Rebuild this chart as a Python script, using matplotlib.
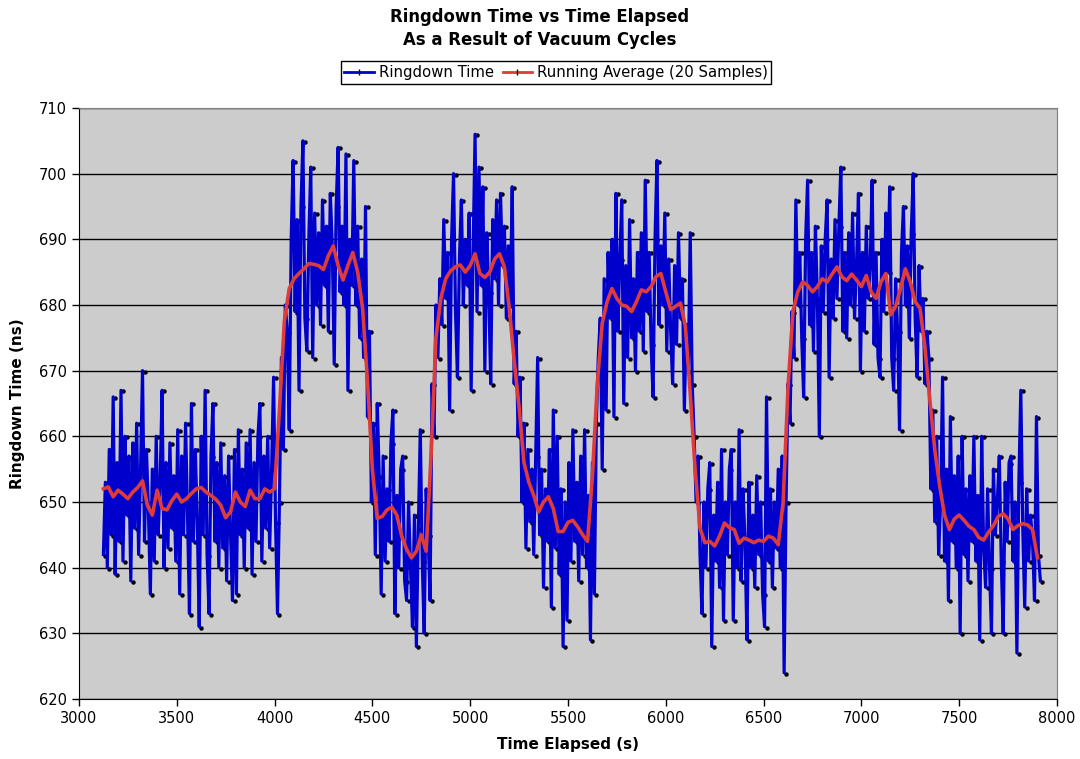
import numpy as np
import matplotlib.pyplot as plt
from matplotlib.lines import Line2D
from matplotlib.transforms import offset_copy

# raw ringdown samples, one every 10 s starting at 3125 s
t_first = 3125
t_step = 10

low_1 = [642, 653, 640, 658, 645, 666, 639, 656, 644, 667,
         641, 660, 648, 657, 638, 659, 646, 662, 642, 655,
         670, 644, 658, 649, 636, 655, 641, 660, 645, 653,
         667, 640, 656, 643, 659, 646, 654, 641, 661, 636,
         657, 645, 662, 648, 633, 665, 644, 658, 647, 631,
         660, 645, 667, 642, 633, 657, 665, 644, 656, 640,
         659, 643, 654, 638, 657, 645, 635, 658, 636, 661,
         645, 655, 640, 659, 646, 661, 639, 656, 644, 660,
         665, 641, 657, 646, 660, 643, 655, 669, 647, 633]
high_1 = [650, 672, 658, 680, 676, 661, 690, 702, 679, 693,
          667, 695, 705, 678, 673, 690, 701, 672, 694, 680,
          691, 677, 696, 683, 692, 676, 697, 689, 671, 695,
          704, 682, 692, 680, 703, 667, 690, 683, 702, 680,
          692, 675, 687]
low_2 = [672, 695, 663, 676, 650, 662, 642, 665, 654, 636,
         657, 641, 652, 644, 659, 664, 633, 651, 640, 655,
         657, 638, 635, 650, 640, 631, 648, 628, 646, 661,
         641, 630, 652, 645, 635]
high_2 = [668, 660, 680, 672, 684, 677, 693, 681, 688, 664,
          690, 700, 679, 669, 687, 696, 680, 690, 683, 694,
          667, 688, 706, 679, 701, 683, 698, 670, 691, 682,
          668, 693, 684, 696, 680, 697, 686, 692, 678, 689,
          680, 698, 668]
low_3 = [676, 660, 669, 650, 662, 643, 658, 647, 655, 642,
         657, 672, 645, 655, 637, 652, 644, 658, 634, 664,
         643, 660, 639, 652, 628, 650, 632, 656, 641, 661,
         644, 653, 638, 657, 642, 661, 640, 651, 629, 656,
         636]
high_3 = [662, 672, 678, 655, 684, 664, 688, 678, 690, 663,
          697, 676, 687, 696, 665, 686, 672, 693, 675, 684,
          670, 688, 676, 691, 673, 699, 679, 688, 674, 666,
          690, 702, 677, 689, 680, 694, 673, 687, 676, 668,
          686, 674, 691, 678, 684, 664, 677, 670]
low_4 = [691, 668, 660, 650, 657, 642, 633, 650, 640, 652,
         656, 628, 648, 641, 653, 637, 658, 632, 650, 642,
         655, 658, 632, 650, 640, 661, 638, 652, 644, 629,
         653, 640, 648, 637, 654, 642, 650, 636, 631, 666,
         641, 652, 637, 650, 643, 655, 640, 657, 624]
high_4 = [650, 668, 662, 679, 672, 696, 680, 688, 675, 666,
          690, 699, 677, 688, 673, 692, 681, 660, 689, 679,
          690, 696, 669, 687, 678, 693, 681, 692, 701, 676,
          688, 675, 691, 680, 694, 678, 686, 697, 670, 688,
          676, 692, 681, 686, 699, 674, 688, 672, 669, 690,
          679, 694, 685, 698, 672, 667, 684, 676, 661, 688,
          695, 680, 689, 675, 691, 700, 678, 669, 686, 676,
          681, 668, 676]
low_5 = [672, 652, 664, 647, 660, 642, 650, 669, 641, 655,
         635, 663, 644, 654, 640, 657, 630, 660, 642, 652,
         638, 654, 644, 660, 641, 651, 629, 660, 643, 637,
         652, 640, 630, 655, 645, 650, 657, 641, 630, 653,
         644, 656, 657, 641, 650, 627, 653, 667, 646, 634,
         652, 641, 648, 644, 635, 663, 642, 638]

# running average (20 samples), read every 25 s starting at 3125 s
avg_first = 3125
avg_step = 25
running_avg = [652.0, 652.3, 650.8, 651.8, 651.2, 650.5, 651.5, 652.2, 653.2, 649.5,
               648.0, 651.8, 649.0, 648.8, 650.2, 651.2, 650.0, 650.5, 651.3, 652.0,
               652.2, 651.5, 651.0, 650.4, 649.5, 647.6, 648.5, 651.5, 650.0, 649.3,
               651.8, 650.5, 650.5, 652.0, 651.5, 652.0, 664.0, 677.5, 682.5, 684.0,
               684.8, 685.5, 686.3, 686.2, 686.0, 685.4, 687.5, 689.0, 686.0, 683.8,
               686.0, 688.0, 685.0, 679.5, 668.5, 655.0, 647.5, 647.8, 648.8, 649.2,
               648.0, 644.8, 642.8, 641.5, 642.5, 645.0, 642.5, 657.0, 675.0, 681.0,
               684.0, 685.2, 685.8, 686.1, 685.0, 686.0, 687.8, 684.8, 684.2, 685.0,
               687.0, 687.8, 685.8, 679.5, 671.5, 664.5, 656.0, 653.0, 651.0, 648.5,
               650.0, 650.8, 649.0, 645.5, 645.5, 646.9, 647.2, 646.2, 645.0, 644.0,
               654.0, 668.0, 677.2, 680.5, 682.5, 681.0, 680.0, 679.8, 679.0, 680.5,
               682.3, 682.0, 682.8, 684.3, 684.8, 682.0, 679.3, 679.8, 680.3, 676.8,
               666.5, 655.0, 646.0, 643.8, 644.0, 643.3, 644.8, 646.8, 646.1, 645.8,
               643.7, 644.5, 644.2, 643.8, 644.2, 644.0, 644.8, 644.5, 643.5, 650.0,
               667.5, 679.0, 682.0, 683.5, 683.0, 682.0, 682.8, 684.0, 683.5, 684.7,
               685.8, 684.3, 683.7, 684.7, 683.8, 682.8, 684.5, 682.0, 681.0, 683.5,
               684.8, 678.5, 679.8, 682.5, 685.5, 683.5, 680.5, 679.5, 673.5, 665.5,
               658.0, 652.5, 648.0, 645.8, 647.4, 648.0, 647.2, 646.3, 645.8, 644.6,
               644.2, 645.4, 646.4, 647.8, 648.2, 647.4, 645.8, 646.4, 646.7, 646.5,
               645.8, 641.5]

ringdown = np.concatenate([low_1, high_1, low_2, high_2, low_3,
                           high_3, low_4, high_4, low_5])
t_ring = t_first + t_step * np.arange(len(ringdown))
t_avg = avg_first + avg_step * np.arange(len(running_avg))

blue = '#0000CC'
red = '#DE3B3B'

fig = plt.figure(figsize=(10.8, 7.59), dpi=100)
ax = fig.add_axes([0.0731, 0.0791, 0.9056, 0.7786])
ax.set_facecolor('#CCCCCC')

# black sample markers, nudged right so they only show beside the spike tips
shifted = offset_copy(ax.transData, fig=fig, x=2, y=-1, units='dots')
ax.plot(t_ring, ringdown, ls='none', marker='o', ms=2.2, color='black',
        zorder=2, transform=shifted)
ax.plot(t_ring, ringdown, color=blue, lw=2.3, zorder=3)
ax.plot(t_avg, running_avg, color=red, lw=2.6, zorder=4)

ax.set_xlim(3000, 8000)
ax.set_ylim(620, 710)
ax.set_xticks(np.arange(3000, 8001, 500))
ax.set_yticks(np.arange(620, 711, 10))
ax.yaxis.grid(True, color='black', lw=1)
ax.set_axisbelow(True)
ax.tick_params(direction='out', length=5, width=1, labelsize=10.5, color='black')

for side in ['top', 'right']:
    ax.spines[side].set_color('#808080')
for side in ['left', 'bottom']:
    ax.spines[side].set_color('black')

ax.set_xlabel('Time Elapsed (s)', fontsize=11, fontweight='bold', labelpad=8)
ax.set_ylabel('Ringdown Time (ns)', fontsize=11, fontweight='bold', labelpad=10)

fig.text(0.5, 1 - 17 / 759, 'Ringdown Time vs Time Elapsed', ha='center', va='center',
         fontsize=11.9, fontweight='bold')
fig.text(0.5, 1 - 40 / 759, 'As a Result of Vacuum Cycles', ha='center', va='center',
         fontsize=11.9, fontweight='bold')

handles = [Line2D([], [], color=blue, lw=2, marker='|', ms=4, mec='black'),
           Line2D([], [], color=red, lw=2, marker='|', ms=4, mec='black')]
leg = fig.legend(handles, ['Ringdown Time', 'Running Average (20 Samples)'],
                 loc='center', bbox_to_anchor=(556 / 1080, 1 - 72.5 / 759), ncol=2,
                 fancybox=False, edgecolor='black', fontsize=10.7, handlelength=2,
                 columnspacing=0.6, handletextpad=0.3, borderpad=0.25, framealpha=1)
leg.get_frame().set_linewidth(1)

fig.savefig('out.png', dpi=100)
